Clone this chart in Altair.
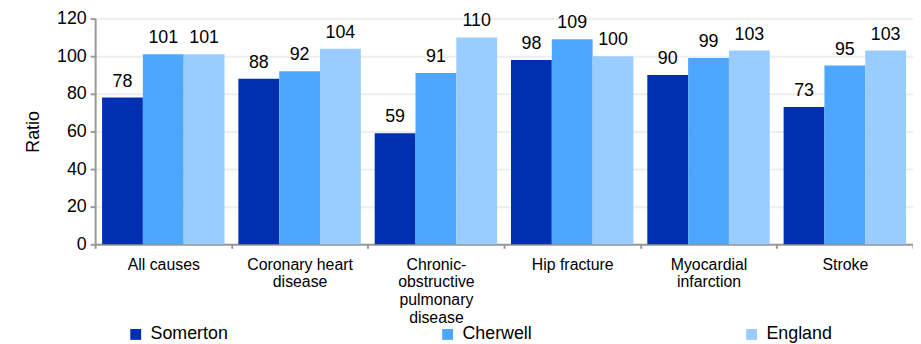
import altair as alt
import pandas as pd

categories = ["All causes", "Coronary heart|disease", "Chronic-|obstructive|pulmonary|disease",
              "Hip fracture", "Myocardial|infarction", "Stroke"]
series = ["Somerton", "Cherwell", "England"]
somerton = [78, 88, 59, 98, 90, 73]
cherwell = [101, 92, 91, 109, 99, 95]
england = [101, 104, 110, 100, 103, 103]
colors = ["#0030B0", "#4DA6FF", "#99CCFF"]

rows = []
for name, vals in zip(series, [somerton, cherwell, england]):
    for c, v in zip(categories, vals):
        rows.append({"category": c, "series": name, "value": v})
df = pd.DataFrame(rows)

FONT = "Liberation Sans"

x = alt.X("category:N", sort=categories,
          scale=alt.Scale(paddingInner=0, paddingOuter=0),
          axis=alt.Axis(title=None, labelExpr="split(datum.label, '|')", labelAngle=0,
                        labelFontSize=16, labelColor="#000000", labelLineHeight=18,
                        labelPadding=8, tickBand="extent", tickSize=4, tickColor="#999999",
                        tickWidth=2, domainColor="#999999", domainWidth=2, labelFont=FONT,
                        labelBaseline="top"))
xo = alt.XOffset("series:N", sort=series, scale=alt.Scale(paddingInner=0, paddingOuter=0.17))
y = alt.Y("value:Q", scale=alt.Scale(domain=[0, 120], nice=False),
          axis=alt.Axis(title="Ratio", values=[0, 20, 40, 60, 80, 100, 120],
                        labelFontSize=18, labelColor="#000000", labelFont=FONT,
                        titleFontSize=18, titleFontWeight="normal", titleColor="#000000",
                        titleFont=FONT, titlePadding=14,
                        tickColor="#999999", tickSize=5, tickWidth=2,
                        domainColor="#999999", domainWidth=2,
                        gridColor="#eeeeee", gridWidth=2, labelPadding=4))

color = alt.Color("series:N", sort=series, scale=alt.Scale(domain=series, range=colors),
                  legend=alt.Legend(title=None, orient="none", legendX=32, legendY=310,
                                    direction="horizontal", columnPadding=212,
                                    symbolType="square", symbolSize=121, symbolStrokeWidth=0,
                                    labelFontSize=18, labelFont=FONT, labelColor="#000000",
                                    labelOffset=6))

bars = alt.Chart(df).mark_bar().encode(x=x, xOffset=xo, y=y, color=color)
texts = alt.Chart(df).mark_text(baseline="bottom", dy=-7, fontSize=18, font=FONT,
                                color="#000000").encode(
    x=x, xOffset=xo, y=y, text=alt.Text("value:Q", format="d"))

chart = (bars + texts).properties(
    width=826, height=228,
    autosize=alt.AutoSizeParams(type="none"),
    padding={"left": 88, "top": 9, "right": 0, "bottom": 99},
).configure_view(stroke=None)

chart.save("out.html", embed_options={"renderer": "svg", "actions": False})
